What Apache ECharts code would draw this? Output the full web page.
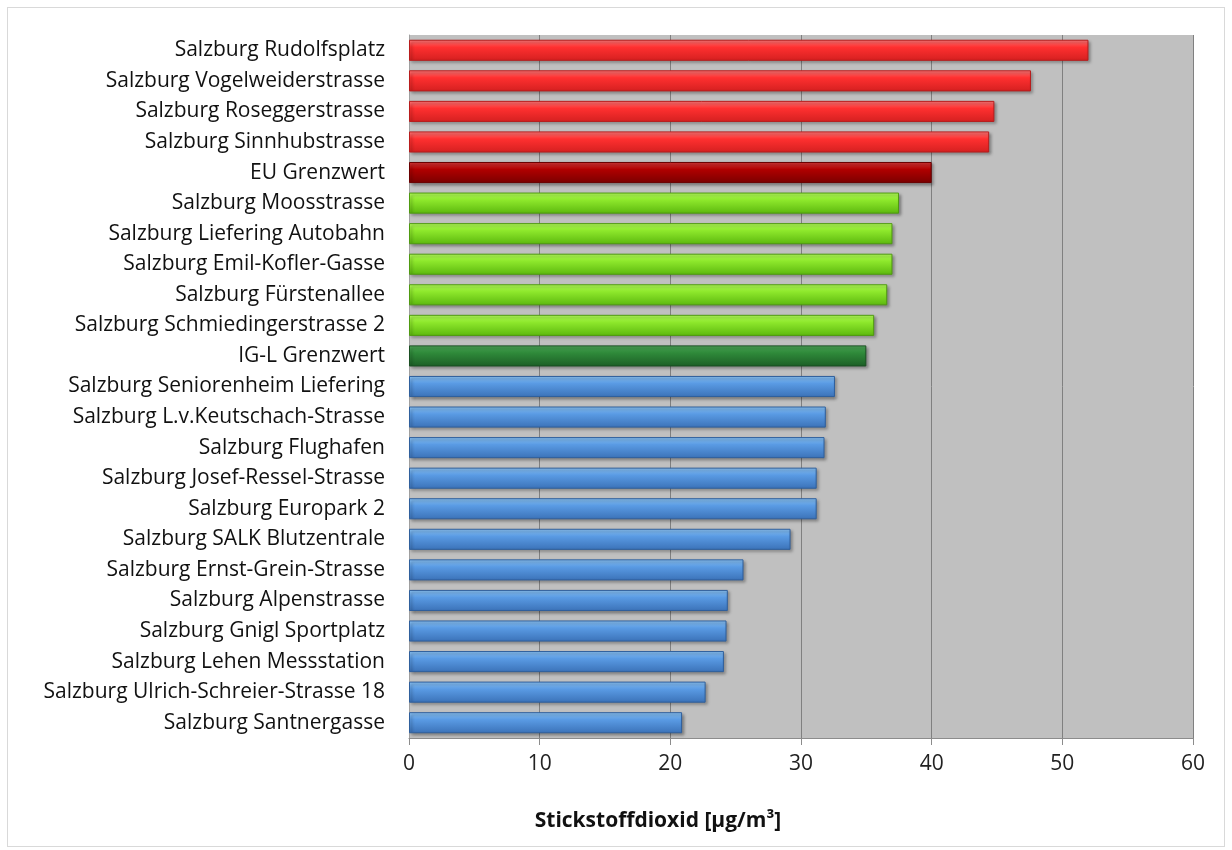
<!DOCTYPE html>
<html>
<head>
    <meta charset="utf-8">
    <title>Stickstoffdioxid Salzburg</title>
    <script src="https://cdn.jsdelivr.net/npm/echarts@6/dist/echarts.min.js"></script>
    <style type="text/css">
        body{
            margin: 0;
            background: #fff;
        }
        #main{
            position: absolute;
            left: 7px;
            top: 7px;
            width: 1216px;
            height: 838px;
            border: 1px solid #d9d9d9;
        }
    </style>
</head>
<body>
<div id="main"></div>
<script>
    var categories = ["Salzburg Rudolfsplatz","Salzburg Vogelweiderstrasse","Salzburg Roseggerstrasse",
        "Salzburg Sinnhubstrasse","EU Grenzwert","Salzburg Moosstrasse","Salzburg Liefering Autobahn",
        "Salzburg Emil-Kofler-Gasse","Salzburg Fürstenallee","Salzburg Schmiedingerstrasse 2",
        "IG-L Grenzwert","Salzburg Seniorenheim Liefering","Salzburg L.v.Keutschach-Strasse",
        "Salzburg Flughafen","Salzburg Josef-Ressel-Strasse","Salzburg Europark 2",
        "Salzburg SALK Blutzentrale","Salzburg Ernst-Grein-Strasse","Salzburg Alpenstrasse",
        "Salzburg Gnigl Sportplatz","Salzburg Lehen Messstation","Salzburg Ulrich-Schreier-Strasse 18",
        "Salzburg Santnergasse"];
    var values = [52.0, 47.6, 44.8, 44.4, 40, 37.5, 37.0, 37.0, 36.6, 35.6, 35,
        32.6, 31.9, 31.8, 31.2, 31.2, 29.2, 25.6, 24.4, 24.3, 24.1, 22.7, 20.9];
    var euLimit = 40;
    var iglLimit = 35;
    var xTicks = [0, 10, 20, 30, 40, 50, 60];

    function grad(top, mid, bottom) {
        return new echarts.graphic.LinearGradient(0, 0, 0, 1, [
            {offset: 0, color: top},
            {offset: 0.35, color: mid},
            {offset: 1, color: bottom}
        ]);
    }

    // Grenzwert rows are dark; stations coloured by which limit they exceed
    function barStyle(name, v) {
        if (name.indexOf('Grenzwert') >= 0) {
            if (v >= euLimit) return {color: grad('#d83a3a', '#b00000', '#7a0000'), borderColor: '#6a0000'};
            return {color: grad('#4fa75a', '#2f8a3a', '#1c5e26'), borderColor: '#1a4f22'};
        }
        if (v > euLimit) return {color: grad('#ff7a7a', '#ff3030', '#d42020'), borderColor: '#b81c1c'};
        if (v > iglLimit) return {color: grad('#b4ff5c', '#8ee82c', '#5cb80e'), borderColor: '#4f9a10'};
        return {color: grad('#8cc4f5', '#5a9be4', '#3b72b8'), borderColor: '#2f5f9c'};
    }

    var data = values.map(function (v, i) {
        var s = barStyle(categories[i], v);
        return {
            value: v,
            itemStyle: {
                color: s.color,
                borderColor: s.borderColor,
                borderWidth: 1,
                shadowColor: 'rgba(0,0,0,0.35)',
                shadowBlur: 3,
                shadowOffsetX: 2,
                shadowOffsetY: 2
            }
        };
    });

    var myChart = echarts.init(document.getElementById('main'));
    var option = {
        animation: false,
        textStyle: {fontFamily: 'Open Sans'},
        grid: {
            left: 401,
            top: 27,
            width: 784,
            height: 703,
            show: true,
            backgroundColor: '#c0c0c0',
            borderWidth: 0
        },
        xAxis: {
            type: 'value',
            min: 0,
            max: 60,
            interval: 10,
            axisLine: {show: true, lineStyle: {color: '#8c8c8c'}},
            axisTick: {show: true, length: 7, lineStyle: {color: '#8c8c8c'}},
            axisLabel: {
                color: '#222', fontSize: 21, margin: 16,
                formatter: function (v) { return xTicks.indexOf(v) >= 0 ? String(v) : ''; }
            },
            splitLine: {show: true, lineStyle: {color: '#808080', width: 1}}
        },
        yAxis: {
            type: 'category',
            data: categories,
            inverse: true,
            axisLine: {show: true, lineStyle: {color: '#a0a0a0'}},
            axisTick: {show: false},
            axisLabel: {color: '#111', fontSize: 21, margin: 24}
        },
        graphic: [{
            type: 'text',
            x: 650,
            y: 813,
            style: {
                text: 'Stickstoffdioxid [µg/m³]',
                font: 'bold 21px "Open Sans"',
                fill: '#111',
                align: 'center',
                verticalAlign: 'middle'
            }
        }],
        series: [{
            type: 'bar',
            data: data,
            barCategoryGap: '31%'
        }]
    };
    myChart.setOption(option);
</script>
</body>
</html>
